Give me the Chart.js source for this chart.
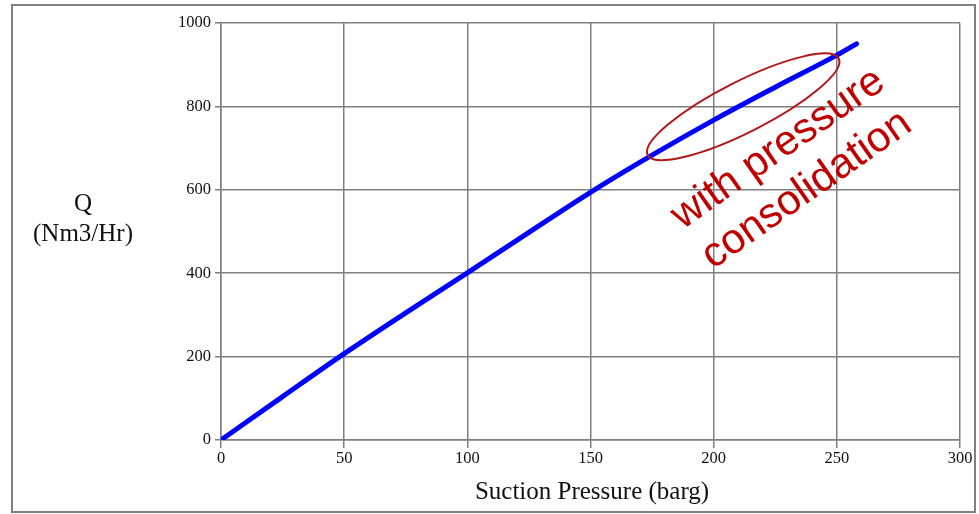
<!DOCTYPE html>
<html>
<head>
<meta charset="utf-8">
<script src="https://cdn.jsdelivr.net/npm/chart.js@4"></script>
<style>
  html, body { margin: 0; padding: 0; background: #fff; }
  #wrap { width: 979px; height: 514px; position: relative; }
</style>
</head>
<body>
<div id="wrap"><canvas id="chart1"></canvas></div>
<script>
const lineColor = "#0000FF"
const noteColor = "#C00000"
const gridColor = "#7f7f7f"

const pressure = [0, 25, 50, 75, 100, 125, 150, 175, 200, 225, 250, 258];
const flowQ = [0, 104, 207, 305, 401, 498, 594, 683, 767, 846, 923, 950];

const xTitle = "Suction Pressure (barg)";
const yTitle = ["Q", "(Nm3/Hr)"];
const noteText = ["with pressure", "consolidation"];

// annotation anchors, in data units
const ellipseAt = [212, 799];
const noteAt = [232, 649];

const serif = "'Liberation Serif', 'Times New Roman', serif";

const extras = {
    id: 'extras',
    beforeDraw(chart) {
        const c = chart.ctx;
        c.save();
        c.fillStyle = '#fff';
        c.fillRect(0, 0, chart.width, chart.height);
        c.strokeStyle = '#808080';
        c.lineWidth = 2;
        c.strokeRect(12, 5, 963, 507);
        c.restore();
    },
    afterDraw(chart) {
        const c = chart.ctx;
        const xs = chart.scales.x, ys = chart.scales.y;
        c.save();
        c.fillStyle = '#111';
        c.textAlign = 'center';
        c.textBaseline = 'middle';
        c.font = "25px " + serif;
        c.fillText(xTitle, 592, 492);
        c.fillText(yTitle[0], 83, 204);
        c.fillText(yTitle[1], 83, 234);

        // ellipse round the consolidated part of the curve
        const ex = xs.getPixelForValue(ellipseAt[0]);
        const ey = ys.getPixelForValue(ellipseAt[1]);
        c.strokeStyle = '#B01818';
        c.lineWidth = 2;
        c.beginPath();
        c.ellipse(ex, ey, 107, 25.5, -26.8 * Math.PI / 180, 0, Math.PI * 2);
        c.stroke();

        const tx = xs.getPixelForValue(noteAt[0]);
        const ty = ys.getPixelForValue(noteAt[1]);
        c.translate(tx, ty);
        c.rotate(-35 * Math.PI / 180);
        c.fillStyle = noteColor;
        c.font = "42px 'Liberation Sans', Arial, sans-serif";
        c.fillText(noteText[0], 0, -25);
        c.fillText(noteText[1], 0, 25);
        c.restore();
    }
};

var ctx = document.getElementById('chart1').getContext('2d');
var chart = new Chart(ctx, {
    type: 'line',
    data: {
        datasets: [{
            data: pressure.map((p, i) => ({x: p, y: flowQ[i]})),
            borderColor: lineColor,
            borderWidth: 5,
            borderCapStyle: 'round',
            pointRadius: 0,
            cubicInterpolationMode: 'monotone',
            fill: false
        }]
    },
    options: {
        responsive: true,
        maintainAspectRatio: false,
        animation: false,
        layout: { padding: { left: 0, top: 23, right: 19, bottom: 0 } },
        plugins: {
            legend: { display: false },
            tooltip: { enabled: false }
        },
        scales: {
            x: {
                type: 'linear',
                min: 0,
                max: 300,
                ticks: { stepSize: 50, color: '#111', padding: 1, maxRotation: 0,
                         font: { family: serif, size: 16.5 } },
                grid: { color: gridColor, lineWidth: 1.5, tickLength: 8 },
                border: { color: gridColor, width: 1.5 },
                afterFit(s) { s.height = 74; }
            },
            y: {
                min: 0,
                max: 1000,
                ticks: { stepSize: 200, color: '#111', padding: 4,
                         font: { family: serif, size: 16.5 },
                         callback: (v) => String(v) },
                grid: { color: gridColor, lineWidth: 1.5, tickLength: 6 },
                border: { color: gridColor, width: 1.5 },
                afterFit(s) { s.width = 221; }
            }
        }
    },
    plugins: [extras]
});
</script>
</body>
</html>
